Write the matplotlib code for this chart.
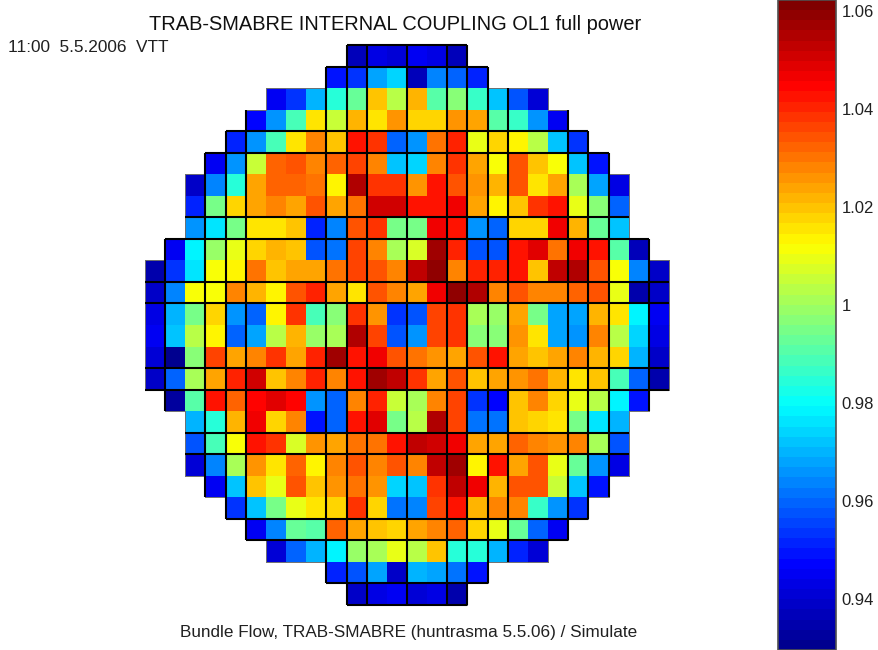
import numpy as np
from matplotlib import pyplot as plt
from matplotlib.colors import LinearSegmentedColormap, Normalize

title = "TRAB-SMABRE INTERNAL COUPLING OL1 full power"
stamp = "11:00  5.5.2006  VTT"
footer = "Bundle Flow, TRAB-SMABRE (huntrasma 5.5.06) / Simulate"

# bundle values, top row first, each row is centred in the 26 x 26 core
rows = [
    [0.937, 0.944, 0.941, 0.946, 0.944, 0.937],
    [0.950, 0.954, 0.967, 0.975, 0.937, 0.963, 0.959, 0.952],
    [0.946, 0.954, 0.969, 0.984, 0.992, 1.019, 1.004, 1.021, 0.990, 0.996, 0.986, 0.971, 0.957, 0.941],
    [0.948, 0.965, 0.988, 1.016, 1.006, 1.021, 1.016, 1.025, 1.017, 1.017, 1.025, 1.023, 0.990, 0.986, 0.965, 0.946],
    [0.952, 0.965, 0.988, 1.016, 1.027, 1.019, 1.043, 1.038, 0.959, 0.965, 1.031, 1.040, 1.009, 1.017, 1.013, 1.004, 0.971, 0.954],
    [0.946, 0.965, 1.006, 1.032, 1.034, 1.029, 1.032, 1.037, 1.028, 0.973, 0.974, 1.027, 1.038, 1.024, 1.011, 1.034, 1.020, 1.011, 0.971, 0.950],
    [0.939, 0.963, 0.984, 1.024, 1.033, 1.033, 1.030, 1.013, 1.054, 1.039, 1.038, 1.025, 1.042, 1.034, 1.025, 1.022, 1.034, 1.015, 1.023, 1.002, 0.968, 0.943],
    [0.952, 0.994, 1.018, 1.024, 1.027, 1.023, 1.035, 1.024, 1.031, 1.051, 1.051, 1.042, 1.042, 1.046, 1.024, 1.013, 1.019, 1.039, 1.042, 1.010, 0.996, 0.959],
    [0.965, 0.977, 0.994, 1.016, 1.016, 1.020, 0.952, 0.963, 1.035, 1.039, 0.994, 0.994, 1.046, 1.043, 0.965, 0.959, 1.018, 1.018, 1.046, 1.022, 0.992, 0.973],
    [0.946, 0.979, 0.998, 1.010, 1.018, 1.021, 1.019, 0.957, 0.961, 1.036, 1.027, 1.002, 1.007, 1.056, 1.040, 0.957, 0.957, 1.042, 1.048, 1.031, 1.046, 1.043, 0.990, 0.937],
    [0.934, 0.954, 0.976, 1.011, 1.013, 1.031, 1.019, 1.024, 1.023, 1.031, 1.036, 1.034, 1.029, 1.053, 1.060, 1.029, 1.040, 1.040, 1.043, 1.020, 1.053, 1.055, 1.034, 1.011, 0.963, 0.938],
    [0.939, 0.963, 1.011, 1.011, 1.028, 1.022, 1.013, 1.034, 1.040, 1.024, 1.016, 1.035, 1.029, 1.023, 1.046, 1.059, 1.055, 1.029, 1.034, 1.027, 1.029, 1.032, 1.035, 1.009, 0.934, 0.939],
    [0.944, 0.969, 0.994, 1.017, 0.965, 0.959, 1.013, 1.038, 0.988, 0.996, 1.039, 1.025, 0.954, 0.957, 1.037, 1.038, 1.002, 0.998, 1.023, 0.994, 0.968, 0.968, 1.021, 1.016, 0.979, 0.946],
    [0.946, 0.973, 1.004, 1.013, 0.959, 0.967, 1.004, 1.022, 0.998, 1.002, 1.054, 1.036, 0.957, 0.965, 1.036, 1.038, 0.996, 0.996, 1.025, 1.015, 0.967, 0.965, 1.027, 1.004, 0.975, 0.944],
    [0.941, 0.930, 0.996, 1.036, 1.024, 1.029, 1.038, 1.023, 1.040, 1.056, 1.042, 1.046, 1.035, 1.031, 1.025, 1.023, 1.035, 1.042, 1.023, 1.020, 1.023, 1.027, 1.022, 1.018, 0.969, 0.939],
    [0.938, 0.959, 1.002, 1.024, 1.040, 1.051, 1.019, 1.029, 1.040, 1.027, 1.043, 1.058, 1.053, 1.038, 1.024, 1.034, 1.020, 1.023, 1.025, 1.030, 1.022, 1.015, 1.020, 0.988, 0.959, 0.934],
    [0.933, 0.990, 1.043, 1.033, 1.044, 1.048, 1.044, 0.965, 0.959, 1.029, 1.040, 1.006, 1.002, 1.029, 1.037, 0.954, 0.948, 1.020, 1.029, 1.018, 1.010, 1.004, 0.979, 0.949],
    [0.969, 0.984, 1.022, 1.046, 1.017, 1.029, 0.950, 0.959, 1.043, 1.049, 0.994, 1.004, 1.054, 1.037, 0.961, 0.961, 1.020, 1.017, 1.016, 0.994, 0.977, 0.969],
    [0.957, 0.988, 1.011, 1.043, 1.039, 1.007, 1.025, 1.023, 1.031, 1.030, 1.043, 1.052, 1.050, 1.046, 1.024, 1.023, 1.032, 1.027, 1.025, 1.027, 1.001, 0.957],
    [0.940, 0.963, 1.000, 1.025, 1.015, 1.032, 1.013, 1.027, 1.035, 1.029, 1.035, 1.027, 1.052, 1.056, 1.013, 1.043, 1.023, 1.035, 1.010, 0.992, 0.965, 0.943],
    [0.946, 0.971, 1.020, 1.010, 1.035, 1.020, 1.025, 1.030, 1.025, 0.975, 0.973, 1.039, 1.052, 1.046, 1.022, 1.035, 1.035, 1.006, 0.971, 0.950],
    [0.954, 0.971, 0.994, 1.010, 1.016, 1.018, 1.039, 1.017, 0.961, 0.963, 1.037, 1.042, 1.022, 1.027, 1.028, 0.986, 0.965, 0.954],
    [0.946, 0.963, 0.992, 0.990, 1.032, 1.024, 1.019, 1.017, 1.024, 1.027, 1.032, 1.018, 1.010, 0.992, 0.959, 0.946],
    [0.941, 0.959, 0.970, 0.979, 0.998, 1.002, 1.010, 1.004, 1.020, 0.984, 0.984, 0.969, 0.952, 0.941],
    [0.952, 0.957, 0.967, 0.939, 0.969, 0.967, 0.961, 0.950],
    [0.938, 0.944, 0.946, 0.941, 0.944, 0.934],
]
bar_ticks = [0.94, 0.96, 0.98, 1.0, 1.02, 1.04, 1.06]
bar_labels = ["0.94", "0.96", "0.98", "1", "1.02", "1.04", "1.06"]
bar_marks = [0.96, 0.98, 1.02, 1.04]
vmin, vmax = 0.9295, 1.0622

# positions of the heavy lines, in bundles from the top left corner
v_lines = [1, 3, 4, 5, 9, 10, 11, 13, 15, 16, 17, 18, 21, 22, 23, 25]
h_lines = [0, 1, 4, 5, 8, 9, 11, 12, 15, 16, 18, 19, 22, 23, 25, 26]

W, H = 879, 650
N = 26


def main():
    plt.rcParams["font.family"] = "Liberation Sans"

    # matlab jet, 64 levels
    jet = LinearSegmentedColormap.from_list(
        "mjet",
        [(0, (0, 0, 0.5625)), (0.125, (0, 0, 1)), (0.375, (0, 1, 1)),
         (0.625, (1, 1, 0)), (0.875, (1, 0, 0)), (1, (0.5, 0, 0))],
        N=64,
    )

    core = np.full((N, N), np.nan)
    for i, row in enumerate(rows):
        start = (N - len(row)) // 2
        core[i, start:start + len(row)] = row
    used = ~np.isnan(core)

    fig = plt.figure(figsize=(W / 100, H / 100), dpi=100)
    ax = fig.add_axes([145 / W, 1 - 605 / H, 524 / W, 560 / H])
    mesh = ax.pcolormesh(np.arange(N + 1), np.arange(N + 1), np.ma.masked_invalid(core),
                         cmap=jet, norm=Normalize(vmin, vmax))
    ax.set_xlim(0, N)
    ax.set_ylim(N, 0)
    ax.axis("off")

    # thin outline round the core
    for i in range(N):
        for j in range(N):
            if not used[i, j]:
                continue
            if j == 0 or not used[i, j - 1]:
                ax.plot([j, j], [i, i + 1], color="#707070", lw=0.7, clip_on=False)
            if j == N - 1 or not used[i, j + 1]:
                ax.plot([j + 1, j + 1], [i, i + 1], color="#707070", lw=0.7, clip_on=False)
            if i == 0 or not used[i - 1, j]:
                ax.plot([j, j + 1], [i, i], color="#707070", lw=0.7, clip_on=False)
            if i == N - 1 or not used[i + 1, j]:
                ax.plot([j, j + 1], [i + 1, i + 1], color="#707070", lw=0.7, clip_on=False)

    # heavy lines only run where there are bundles
    for k in v_lines:
        inside = used[:, max(k - 1, 0)] | used[:, min(k, N - 1)]
        top = np.argmax(inside)
        bottom = N - np.argmax(inside[::-1])
        ax.plot([k, k], [top, bottom], color="black", lw=1.5, clip_on=False, solid_capstyle="butt")
    for k in h_lines:
        inside = used[max(k - 1, 0), :] | used[min(k, N - 1), :]
        left = np.argmax(inside)
        right = N - np.argmax(inside[::-1])
        ax.plot([left, right], [k, k], color="black", lw=1.5, clip_on=False, solid_capstyle="butt")

    cax = fig.add_axes([778 / W, 0, 58 / W, 1])
    bar = fig.colorbar(mesh, cax=cax)
    bar.set_ticks(bar_ticks, labels=bar_labels)
    bar.outline.set_edgecolor("#505050")
    bar.outline.set_linewidth(1.2)
    cax.tick_params(axis="y", which="major", length=0, pad=4, labelsize=12, labelcolor="#202020")
    cax.set_yticks(bar_marks, minor=True)
    cax.tick_params(axis="y", which="minor", left=True, right=True, direction="in",
                    length=6, width=1, color="#202020")

    fig.text(395 / W, 1 - 24 / H, title, ha="center", va="center", fontsize=14.4, color="#101010")
    fig.text(8 / W, 1 - 48 / H, stamp, ha="left", va="center", fontsize=12.4, color="#202020")
    fig.text(409 / W, 1 - 633 / H, footer, ha="center", va="center", fontsize=12.3, color="#202020")

    fig.savefig("out.png", dpi=100)


if __name__ == "__main__":
    main()
